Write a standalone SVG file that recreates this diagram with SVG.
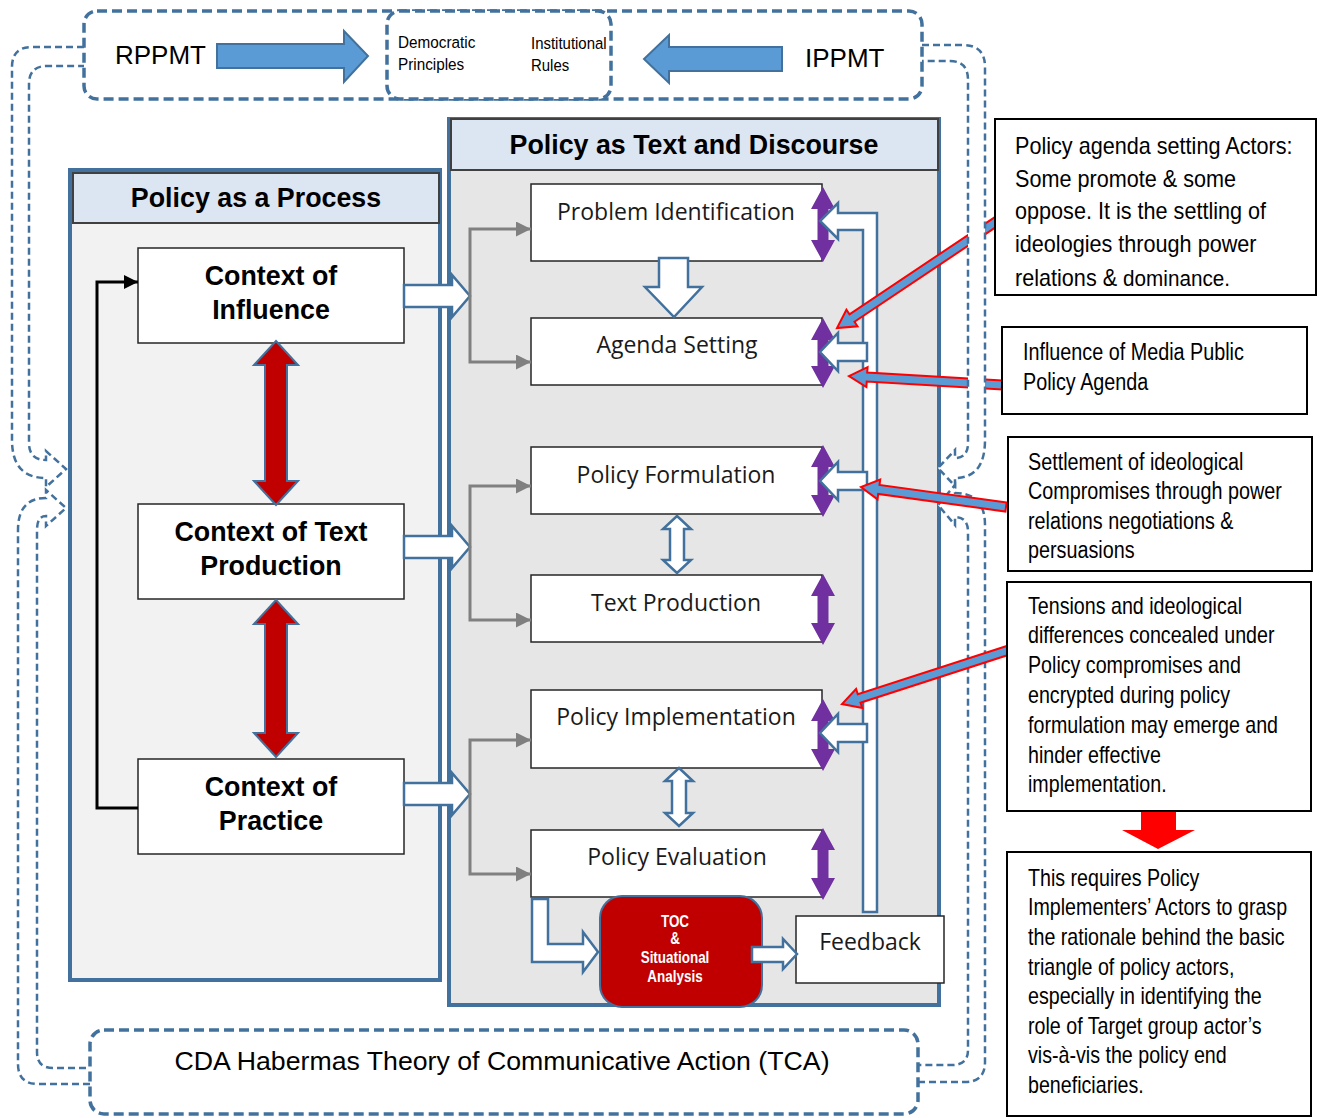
<svg xmlns="http://www.w3.org/2000/svg" width="1320" height="1118" viewBox="0 0 1320 1118">
  <style>
    .dash-box { fill: #fff; stroke: #41719c; stroke-width: 3.5; stroke-dasharray: 10 5; }
    .band { fill: #fff; stroke: #41719c; stroke-width: 2.5; stroke-dasharray: 7 4; }
    .hollow { fill: #fff; stroke: #41719c; stroke-width: 2.5; stroke-linejoin: miter; }
    .node { fill: #fff; stroke: #262626; stroke-width: 1.5; }
    .note { fill: #fff; stroke: #000; stroke-width: 2; }
    .hdr { fill: #dce6f2; stroke: #404040; stroke-width: 2; }
    .lbl { font-family: 'Open Sans', 'Liberation Sans', sans-serif; font-size: 23px; fill: #1a1a1a; text-anchor: middle; }
    .ctx { font-family: 'Liberation Sans', Arial, sans-serif; font-weight: bold; font-size: 26.8px; fill: #000; text-anchor: middle; }
    .big { font-family: 'Liberation Sans', Arial, sans-serif; font-size: 26px; fill: #000; }
    .caption { font-family: 'Liberation Sans', Arial, sans-serif; font-size: 26.7px; fill: #000; text-anchor: middle; }
    .small { font-family: 'Liberation Sans', Arial, sans-serif; font-size: 17px; fill: #000; }
    .note-t { font-family: 'Liberation Sans', Arial, sans-serif; font-size: 23px; fill: #000; }
    .toc-t { font-family: 'Liberation Sans', Arial, sans-serif; font-weight: bold; font-size: 16px; fill: #fff; text-anchor: middle; }
    .purple { fill: #7030a0; }
    .redx { fill: #c00000; stroke: #41719c; stroke-width: 2; }
    .callout { fill: #5b9bd5; stroke: #ff0000; stroke-width: 2; stroke-linejoin: miter; }
    .blue { fill: #5b9bd5; stroke: #41719c; stroke-width: 2; }
    .gray { fill: none; stroke: #808080; stroke-width: 3; }
  </style>
  <defs>
    <marker id="grayHead" markerUnits="userSpaceOnUse" markerWidth="15" markerHeight="15" viewBox="0 0 15 15" refX="15" refY="7.5" orient="auto">
      <path d="M0,0 L15,7.5 L0,15 z" fill="#808080"/>
    </marker>
    <marker id="blackHead" markerUnits="userSpaceOnUse" markerWidth="14" markerHeight="14" viewBox="0 0 14 14" refX="14" refY="7" orient="auto">
      <path d="M0,0 L14,7 L0,14 z" fill="#000"/>
    </marker>
    <clipPath id="clipNote1">
      <rect x="996" y="120" width="319" height="166"/>
    </clipPath>
  </defs>

  <rect width="1320" height="1118" fill="#fff"/>

  <!-- Panels -->
  <g id="panel-process">
    <rect x="70" y="170" width="370" height="810" fill="#f2f2f2" stroke="#41719c" stroke-width="4"/>
    <rect class="hdr" x="73" y="173" width="366" height="50"/>
    <text class="ctx" x="256" y="207">Policy as a Process</text>
  </g>
  <g id="panel-text">
    <rect x="449" y="119" width="490" height="886" fill="#e6e6e6" stroke="#41719c" stroke-width="4"/>
    <rect class="hdr" x="451" y="119" width="487" height="51"/>
    <text class="ctx" x="694" y="154">Policy as Text and Discourse</text>
  </g>

  <!-- Context nodes -->
  <g id="ctx-influence">
    <rect class="node" x="138" y="248" width="266" height="95"/>
    <text class="ctx" x="271" y="285">Context of</text>
    <text class="ctx" x="271" y="319">Influence</text>
  </g>
  <g id="ctx-production">
    <rect class="node" x="138" y="504" width="266" height="95"/>
    <text class="ctx" x="271" y="541">Context of Text</text>
    <text class="ctx" x="271" y="575">Production</text>
  </g>
  <g id="ctx-practice">
    <rect class="node" x="138" y="759" width="266" height="95"/>
    <text class="ctx" x="271" y="796">Context of</text>
    <text class="ctx" x="271" y="830">Practice</text>
  </g>

  <!-- Policy stages -->
  <g id="stage-problem">
    <rect class="node" x="531" y="184" width="291" height="77"/>
    <text class="lbl" x="676" y="220">Problem Identification</text>
  </g>
  <g id="stage-agenda">
    <rect class="node" x="531" y="318" width="291" height="67"/>
    <text class="lbl" x="677" y="353">Agenda Setting</text>
  </g>
  <g id="stage-formulation">
    <rect class="node" x="531" y="447" width="291" height="67"/>
    <text class="lbl" x="676" y="483">Policy Formulation</text>
  </g>
  <g id="stage-text">
    <rect class="node" x="531" y="575" width="291" height="67"/>
    <text class="lbl" x="676" y="611">Text Production</text>
  </g>
  <g id="stage-implementation">
    <rect class="node" x="531" y="690" width="291" height="78"/>
    <text class="lbl" x="676" y="725">Policy Implementation</text>
  </g>
  <g id="stage-evaluation">
    <rect class="node" x="531" y="830" width="291" height="67"/>
    <text class="lbl" x="677" y="865">Policy Evaluation</text>
  </g>
  <g id="toc">
    <rect x="600" y="896" width="162" height="111" rx="22" fill="#c00000" stroke="#41719c" stroke-width="2"/>
    <g transform="translate(675 0) scale(0.84 1)">
      <text class="toc-t" x="0" y="927">TOC</text>
      <text class="toc-t" x="0" y="944">&amp;</text>
      <text class="toc-t" x="0" y="963">Situational</text>
      <text class="toc-t" x="0" y="982">Analysis</text>
    </g>
  </g>
  <g id="feedback">
    <rect class="node" x="796" y="916" width="148" height="67"/>
    <text class="lbl" x="870" y="950">Feedback</text>
  </g>

  <!-- Connectors -->
  <g id="connectors">
    <!-- loop from practice back to influence -->
    <path d="M138,808 H97 V282 H138" fill="none" stroke="#000" stroke-width="3" marker-end="url(#blackHead)"/>
    <!-- red two-way links between contexts -->
    <polygon class="redx" points="276,341 298,365 287,365 287,481 298,481 276,505 254,481 265,481 265,365 254,365"/>
    <polygon class="redx" points="276,600 298,624 287,624 287,733 298,733 276,757 254,733 265,733 265,624 254,624"/>
    <!-- block arrows from contexts into the stages -->
    <path class="hollow" d="M404,285 H452 V275 L470,296 L452,317 V307 H404 Z"/>
    <path class="hollow" d="M404,536 H452 V526 L470,547 L452,568 V558 H404 Z"/>
    <path class="hollow" d="M404,783 H452 V773 L470,794 L452,815 V805 H404 Z"/>
    <!-- gray elbow branches -->
    <path class="gray" d="M470,296 V229 H531" marker-end="url(#grayHead)"/>
    <path class="gray" d="M470,296 V362 H531" marker-end="url(#grayHead)"/>
    <path class="gray" d="M470,547 V486 H531" marker-end="url(#grayHead)"/>
    <path class="gray" d="M470,547 V620 H531" marker-end="url(#grayHead)"/>
    <path class="gray" d="M470,794 V740 H531" marker-end="url(#grayHead)"/>
    <path class="gray" d="M470,794 V874 H531" marker-end="url(#grayHead)"/>
    <!-- links between stages -->
    <path class="hollow" d="M659,258 H688 V287 H702 L674,317 L645,287 H659 Z"/>
    <path class="hollow" d="M677,516 L691,529 H684 V560 H691 L677,573 L663,560 H670 V529 H663 Z"/>
    <path class="hollow" d="M679,768 L693,781 H686 V813 H693 L679,826 L665,813 H672 V781 H665 Z"/>
    <!-- purple two-way markers at the stage edges -->
    <polygon class="purple" points="823,187 835,209 828.5,209 828.5,240 835,240 823,262 811,240 817.5,240 817.5,209 811,209"/>
    <polygon class="purple" points="823,318 835,340 828.5,340 828.5,366 835,366 823,388 811,366 817.5,366 817.5,340 811,340"/>
    <polygon class="purple" points="823,445 835,467 828.5,467 828.5,495 835,495 823,517 811,495 817.5,495 817.5,467 811,467"/>
    <polygon class="purple" points="823,574 835,596 828.5,596 828.5,623 835,623 823,645 811,623 817.5,623 817.5,596 811,596"/>
    <polygon class="purple" points="823,699 835,721 828.5,721 828.5,749 835,749 823,771 811,749 817.5,749 817.5,721 811,721"/>
    <polygon class="purple" points="823,828 835,850 828.5,850 828.5,878 835,878 823,900 811,878 817.5,878 817.5,850 811,850"/>
    <!-- feedback loop -->
    <path class="hollow" d="M877,912 V213 H838 V203 L820,221 L838,239 V230 H863 V912 Z"/>
    <path class="hollow" d="M867,343 H838 V333 L820,352 L838,371 V361 H867 Z"/>
    <path class="hollow" d="M867,472 H838 V462 L820,481 L838,500 V490 H867 Z"/>
    <path class="hollow" d="M867,724 H838 V714 L820,733 L838,752 V742 H867 Z"/>
    <!-- evaluation to TOC, TOC to feedback -->
    <path class="hollow" d="M532,899 V962 H583 V972 L598,952 L583,932 V944 H548 V899 Z"/>
    <path class="hollow" d="M752,947 H783 V939 L797,954 L783,969 V962 H752 Z"/>
  </g>

  <!-- Callout arrows behind the dashed bands -->
  <g id="callouts-upper">
    <polygon class="callout" points="994.5,217.3 849.5,314.3 846.4,309.7 837,328 857.5,326.3 854.5,321.7 999.5,224.7"/>
    <polygon class="callout" points="1002.3,380.5 867.2,372.6 867.6,367.1 849,376 866.4,387 866.7,381.6 1001.7,389.5"/>
  </g>

  <!-- Dashed curved arrows linking the frame boxes to the panels -->
  <g id="bands">
    <path class="band" d="M84,47 H32 Q12,47 12,67 V440 Q12,478 46,478 L46,487 L66,469 L46,451 L46,460 Q29,460 29,443 V84 Q29,66 47,66 H84"/>
    <path class="band" d="M90,1084 H38 Q18,1084 18,1064 V530 Q18,498 46,498 L46,490 L66,508 L46,526 L46,516 Q37,516 37,530 V1052 Q37,1068 53,1068 H90"/>
    <path class="band" d="M922,45 H963 Q985,45 985,67 V440 Q985,478 955,478 L955,486 L938,468 L955,450 L955,458 Q968,458 968,443 V80 Q968,61 950,61 H922"/>
    <path class="band" d="M918,1082 H965 Q985,1082 985,1062 V525 Q985,493 955,493 L955,485 L938,505 L955,525 L955,517 Q968,517 968,532 V1050 Q968,1065 952,1065 H918"/>
  </g>

  <!-- Frame boxes -->
  <g id="frame-top">
    <rect class="dash-box" x="84" y="11" width="838" height="88" rx="13"/>
    <rect class="dash-box" x="387" y="11" width="224" height="88" rx="13"/>
    <text class="big" x="115" y="64">RPPMT</text>
    <path class="blue" d="M217,44 H344 V31 L368,56 L344,82 V68 H217 Z"/>
    <g transform="translate(398 0) scale(0.9 1)">
      <text class="small" x="0" y="48">Democratic</text>
      <text class="small" x="0" y="70">Principles</text>
    </g>
    <g transform="translate(531 0) scale(0.88 1)">
      <text class="small" x="0" y="49">Institutional</text>
      <text class="small" x="0" y="71">Rules</text>
    </g>
    <path class="blue" d="M782,47 H669 V35 L644,59 L669,83 V71 H782 Z"/>
    <text class="big" x="805" y="67">IPPMT</text>
  </g>
  <g id="frame-bottom">
    <rect class="dash-box" x="90" y="1030" width="828" height="84" rx="14"/>
    <text class="caption" x="502" y="1070">CDA Habermas Theory of Communicative Action (TCA)</text>
  </g>

  <!-- Callout arrows above the dashed bands -->
  <g id="callouts-lower">
    <polygon class="callout" points="1006.6,502.5 879.5,485 880.2,479.6 861,487 877.5,499.4 878.2,493.9 1005.4,511.5"/>
    <polygon class="callout" points="1010.6,644.7 857.8,694.2 856.1,689 842,704 862.2,708 860.5,702.7 1013.4,653.3"/>
  </g>

  <!-- Annotation boxes -->
  <g id="note-agenda-actors">
    <rect class="note" x="995" y="119" width="321" height="176"/>
    <g clip-path="url(#clipNote1)">
      <g transform="translate(1015 0) scale(0.94 1)">
        <text class="note-t" x="0" y="154">Policy agenda setting Actors:</text>
        <text class="note-t" x="0" y="187">Some promote &amp; some</text>
        <text class="note-t" x="0" y="219.5">oppose. It is the settling of</text>
        <text class="note-t" x="0" y="252">ideologies through power</text>
        <text class="note-t" x="0" y="286">relations &amp; <tspan font-size="22">dominance.</tspan></text>
      </g>
    </g>
  </g>
  <g id="note-media">
    <rect class="note" x="1002" y="327" width="305" height="87"/>
    <g transform="translate(1023 0) scale(0.86 1)">
      <text class="note-t" x="0" y="360">Influence of Media Public</text>
      <text class="note-t" x="0" y="390">Policy Agenda</text>
    </g>
  </g>
  <g id="note-settlement">
    <rect class="note" x="1008" y="437" width="304" height="134"/>
    <g transform="translate(1028 0) scale(0.86 1)">
      <text class="note-t" x="0" y="470">Settlement of ideological</text>
      <text class="note-t" x="0" y="499.5">Compromises through power</text>
      <text class="note-t" x="0" y="529">relations negotiations &amp;</text>
      <text class="note-t" x="0" y="558">persuasions</text>
    </g>
  </g>
  <g id="note-tensions">
    <rect class="note" x="1007" y="582" width="304" height="229"/>
    <g transform="translate(1028 0) scale(0.855 1)">
      <text class="note-t" x="0" y="614">Tensions and ideological</text>
      <text class="note-t" x="0" y="643.5">differences concealed under</text>
      <text class="note-t" x="0" y="673">Policy compromises and</text>
      <text class="note-t" x="0" y="703">encrypted during policy</text>
      <text class="note-t" x="0" y="733">formulation may emerge and</text>
      <text class="note-t" x="0" y="763">hinder effective</text>
      <text class="note-t" x="0" y="792">implementation.</text>
    </g>
  </g>
  <g id="link-requires">
    <path d="M1141,812 H1176 V830 H1195 L1158,849 L1122,830 H1141 Z" fill="#ff0000"/>
  </g>
  <g id="note-requires">
    <rect class="note" x="1007" y="852" width="304" height="264"/>
    <g transform="translate(1028 0) scale(0.855 1)">
      <text class="note-t" x="0" y="886">This requires Policy</text>
      <text class="note-t" x="0" y="915.5">Implementers’ Actors to grasp</text>
      <text class="note-t" x="0" y="945">the rationale behind the basic</text>
      <text class="note-t" x="0" y="975">triangle of policy actors,</text>
      <text class="note-t" x="0" y="1004.5">especially in identifying the</text>
      <text class="note-t" x="0" y="1034">role of Target group actor’s</text>
      <text class="note-t" x="0" y="1063.5">vis-à-vis the policy end</text>
      <text class="note-t" x="0" y="1093">beneficiaries.</text>
    </g>
  </g>
</svg>
